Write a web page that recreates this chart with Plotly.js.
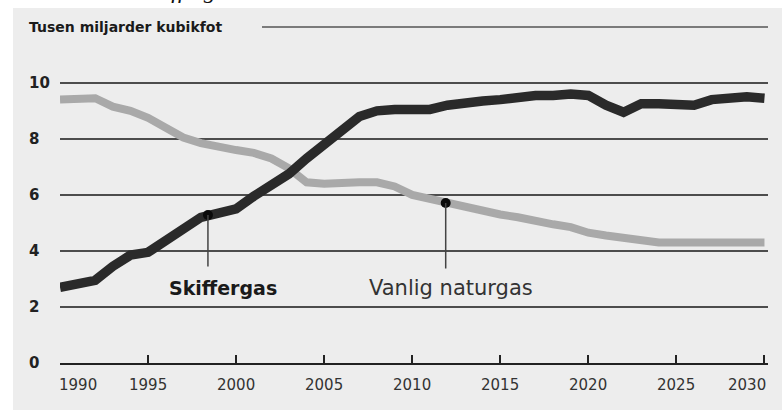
<!DOCTYPE html>
<html>
<head>
<meta charset="utf-8">
<script src="https://cdn.plot.ly/plotly-3.0.1.min.js"></script>
<style>html,body{margin:0;padding:0;background:#fff;}#chart{width:782px;height:410px;}</style>
</head>
<body>
<div id="chart"></div>
<script>
// ---- data ----
var years = [1990,1991,1992,1993,1994,1995,1996,1997,1998,1999,2000,2001,2002,2003,2004,2005,2006,2007,2008,2009,2010,2011,2012,2013,2014,2015,2016,2017,2018,2019,2020,2021,2022,2023,2024,2025,2026,2027,2028,2029,2030];
var skiffergas = [2.7,2.8,2.95,3.45,3.85,3.95,4.35,4.85,5.2,5.35,5.5,5.95,6.35,6.75,7.3,7.75,8.3,8.8,9.0,9.05,9.05,9.05,9.2,9.3,9.35,9.4,9.5,9.55,9.55,9.6,9.55,9.2,8.95,9.25,9.25,9.25,9.2,9.4,9.45,9.5,9.45];
var vanligNaturgas = [9.4,9.4,9.45,9.15,9.0,8.75,8.4,8.05,7.85,7.7,7.6,7.5,7.3,6.95,6.45,6.4,6.45,6.45,6.45,6.3,6.0,5.85,5.7,5.55,5.45,5.3,5.2,5.05,4.95,4.85,4.65,4.55,4.45,4.35,4.3,4.3,4.3,4.3,4.3,4.3,4.3];
var seriesNames = ["Skiffergas", "Vanlig naturgas"];
var calloutYears = [1998.4, 2011.9];
var calloutValues = [5.28, 5.71];
var xTickVals = [1990,1995,2000,2005,2010,2015,2020,2025,2030];
var xTickText = ["1990","1995","2000","2005","2010","2015","2020","2025","2030"];
var yTickVals = [0,2,4,6,8,10];
var yTickText = ["0","2","4","6","8","10"];
var unitTitle = "Tusen miljarder kubikfot";
var topHeading = "Skiffergas";

// ---- layout helpers (pixel -> paper) ----
var W = 782, H = 410, ML = 60, MR = 14, MT = 66, MB = 47;
var PW = W - ML - MR, PH = H - MT - MB;
function px(x){ return (x - ML) / PW; }
function py(y){ return (H - MB - y) / PH; }

var traces = [
  {x: years, y: vanligNaturgas, name: seriesNames[1], mode: 'lines',
   line: {color: '#a9a9a9', width: 8}, hoverinfo: 'skip'},
  {x: years, y: skiffergas, name: seriesNames[0], mode: 'lines',
   line: {color: '#2a2a2a', width: 9.5}, hoverinfo: 'skip'},
  {x: calloutYears, y: calloutValues, mode: 'markers',
   marker: {color: '#0a0a0a', size: 10}, hoverinfo: 'skip'}
];

var annotations = [];
// unit title
annotations.push({xref:'paper', yref:'paper', x: px(27), y: py(27), xanchor:'left', yanchor:'middle',
  text: '<b>' + unitTitle + '</b>', showarrow:false,
  font:{family:'DejaVu Sans', size:14, color:'#1a1a1a'}});
// cut-off heading at very top (only its lower edge is visible, as in the source)
annotations.push({xref:'paper', yref:'paper', x: px(141), y: py(4), xanchor:'left', yanchor:'bottom',
  text: '<i>' + topHeading + '</i>', showarrow:false, borderpad:0,
  font:{family:'Liberation Serif', size:24, color:'#111'}});
// y tick labels (left aligned)
yTickVals.forEach(function(v, i){
  annotations.push({xref:'paper', yref:'y', x: px(27), y: v, xanchor:'left', yanchor:'middle',
    text: '<b>' + yTickText[i] + '</b>', showarrow:false,
    font:{family:'DejaVu Sans', size:15, color:'#222'}});
});
// x tick labels (first and last pulled inward, as in the source)
xTickVals.forEach(function(v, i){
  var last = xTickVals.length - 1;
  annotations.push({xref:'x', yref:'paper', x: v, y: py(385), yanchor:'middle',
    xanchor: i === 0 ? 'left' : (i === last ? 'right' : 'center'),
    xshift: i === 0 ? -3 : (i === last ? 4 : 0),
    text: xTickText[i], showarrow:false,
    font:{family:'DejaVu Sans', size:15, color:'#333'}});
});
// callout connector lines
var drops = [53, 67];
calloutYears.forEach(function(yr, i){
  annotations.push({xref:'x', yref:'y', x: yr, y: calloutValues[i], text:'', showarrow:true,
    ax:0, ay:drops[i], arrowhead:0, arrowwidth:1.5, arrowcolor:'#444'});
});
// callout labels
annotations.push({xref:'x', yref:'y', x: calloutYears[0], y: calloutValues[0], xshift: 15, yshift: -(288-215),
  text:'<b>' + seriesNames[0] + '</b>', showarrow:false, xanchor:'center', yanchor:'middle',
  font:{family:'DejaVu Sans', size:19, color:'#1a1a1a'}});
annotations.push({xref:'x', yref:'y', x: calloutYears[1], y: calloutValues[1], xshift: 5, yshift: -(288-203),
  text: seriesNames[1], showarrow:false, xanchor:'center', yanchor:'middle',
  font:{family:'DejaVu Sans', size:21, color:'#333'}});

var shapes = [
  {type:'rect', xref:'paper', yref:'paper', x0: px(13), x1: px(782), y0: py(410), y1: py(8),
   fillcolor:'#ededed', line:{width:0}, layer:'below'},
  {type:'line', xref:'paper', yref:'paper', x0: px(262), x1: px(768), y0: py(27), y1: py(27),
   line:{color:'#555', width:1.5}, layer:'below'}
];

var layout = {
  width: W, height: H,
  margin: {l: ML, r: MR, t: MT, b: MB, pad: 0},
  paper_bgcolor: '#ffffff',
  plot_bgcolor: 'rgba(0,0,0,0)',
  showlegend: false,
  xaxis: {range: [1990, 2030.2], tickvals: xTickVals, ticktext: xTickText, showticklabels: false,
    ticks: 'inside', ticklen: 8, tickwidth: 2, tickcolor: '#222',
    showline: true, linecolor: '#222', linewidth: 2, showgrid: false, zeroline: false},
  yaxis: {range: [0, 10.6], tickvals: [2,4,6,8,10], showticklabels: false, ticks: '',
    showgrid: true, gridcolor: '#4d4d4d', gridwidth: 1.5, zeroline: false, showline: false},
  shapes: shapes,
  annotations: annotations
};

Plotly.newPlot('chart', traces, layout, {displayModeBar: false, staticPlot: true});
</script>
</body>
</html>
